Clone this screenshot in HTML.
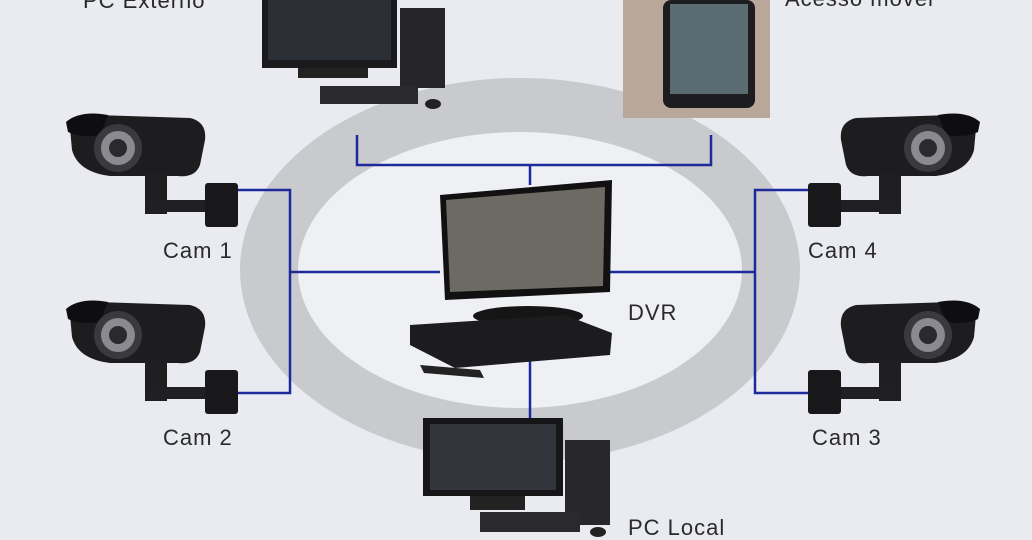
<!DOCTYPE html>
<html><head><meta charset="utf-8"><style>
html,body{margin:0;padding:0;width:1032px;height:540px;overflow:hidden;background:#e9ebf1}
svg{display:block}
text{font-family:"Liberation Sans",sans-serif;font-size:22px;fill:#2a2a2a;letter-spacing:1px}
</style></head><body>
<svg width="1032" height="540" viewBox="0 0 1032 540" xmlns="http://www.w3.org/2000/svg">
<defs>
<g id="cam">
  <path d="M70 128 Q72 112 95 115 L190 118 Q207 122 205 140 L200 165 Q195 178 178 176 L110 176 Q78 172 72 150 Z" fill="#1d1d1f"/>
  <path d="M66 122 Q80 110 108 115 L100 135 Q80 138 68 132 Z" fill="#0e0e10"/>
  <circle cx="118" cy="148" r="24" fill="#3a3a3e"/>
  <circle cx="118" cy="148" r="17" fill="#8a8a90"/>
  <circle cx="118" cy="148" r="9" fill="#2a2a2e"/>
  <rect x="145" y="174" width="22" height="40" fill="#1f1f22"/>
  <rect x="150" y="200" width="60" height="12" fill="#202024"/>
  <rect x="205" y="183" width="33" height="44" rx="3" fill="#18181a"/>
</g>
</defs>
<rect width="1032" height="540" fill="#e9ebf1"/>
<ellipse cx="520" cy="270" rx="280" ry="192" fill="#c9cacd"/>
<ellipse cx="520" cy="270" rx="222" ry="138" fill="#eff0f4"/>
<g stroke="#1c2a9c" stroke-width="2.5" fill="none">
  <path d="M357 135 V165 H711 V135 M530 165 V185"/>
  <path d="M235 190 H290 V393 H235 M290 272 H440"/>
  <path d="M810 190 H755 V393 H810 M610 272 H755"/>
  <path d="M530 340 V420"/>
</g>
<use href="#cam"/>
<use href="#cam" transform="translate(0,187)"/>
<use href="#cam" transform="translate(1046,0) scale(-1,1)"/>
<use href="#cam" transform="translate(1046,187) scale(-1,1)"/>
<!-- PC externo -->
<rect x="262" y="0" width="135" height="68" fill="#1a1a1c"/>
<rect x="268" y="0" width="123" height="60" fill="#2c2f36"/>
<rect x="298" y="68" width="70" height="10" fill="#222"/>
<rect x="400" y="8" width="45" height="80" fill="#26262a"/>
<rect x="320" y="86" width="98" height="18" fill="#2a2a2e"/>
<ellipse cx="433" cy="104" rx="8" ry="5" fill="#222"/>
<!-- phone -->
<rect x="623" y="0" width="147" height="118" fill="#b9a79a"/>
<rect x="663" y="0" width="92" height="108" rx="8" fill="#1d1d20"/>
<rect x="670" y="4" width="78" height="90" fill="#5b6b72"/>
<!-- DVR monitor -->
<path d="M440 195 L612 180 L610 292 L445 300 Z" fill="#111"/>
<path d="M446 200 L605 187 L603 286 L450 292 Z" fill="#6c6a62"/>
<ellipse cx="528" cy="316" rx="55" ry="10" fill="#151515"/>
<path d="M410 325 L565 315 L612 333 L610 355 L455 368 L410 345 Z" fill="#1c1c1f"/>
<path d="M420 365 L480 370 L484 378 L424 373 Z" fill="#222"/>
<!-- PC local -->
<rect x="423" y="418" width="140" height="78" fill="#161618"/>
<rect x="430" y="424" width="126" height="66" fill="#32353c"/>
<rect x="470" y="496" width="55" height="14" fill="#222"/>
<rect x="565" y="440" width="45" height="85" fill="#28282c"/>
<rect x="480" y="512" width="100" height="20" fill="#2a2a2e"/>
<ellipse cx="598" cy="532" rx="8" ry="5" fill="#222"/>
<text x="83" y="8">PC Externo</text>
<text x="785" y="6">Acesso móvel</text>
<text x="163" y="258">Cam 1</text>
<text x="163" y="445">Cam 2</text>
<text x="808" y="258">Cam 4</text>
<text x="812" y="445">Cam 3</text>
<text x="628" y="320">DVR</text>
<text x="628" y="535">PC Local</text>
</svg>
</body></html>
